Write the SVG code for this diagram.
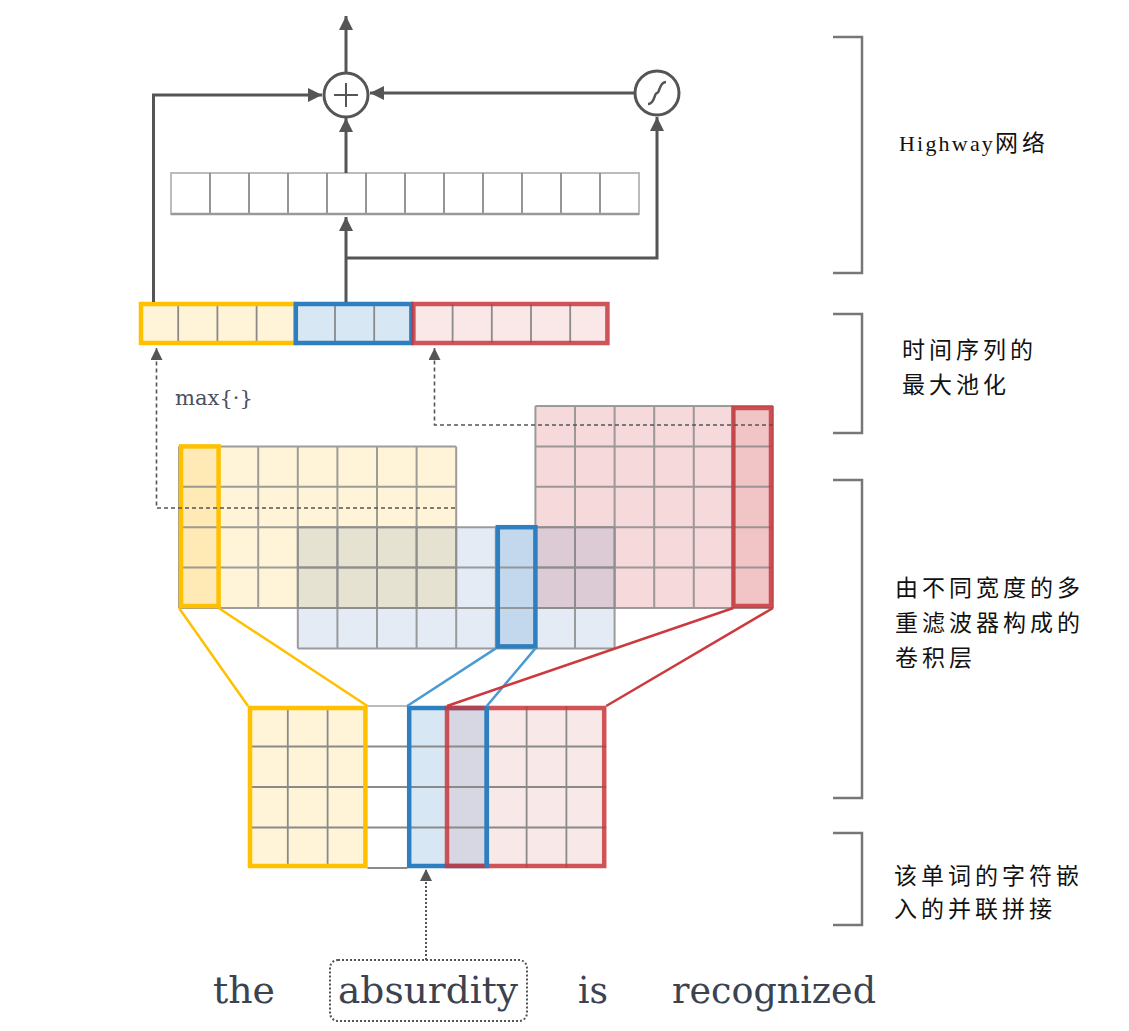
<svg xmlns="http://www.w3.org/2000/svg" width="1129" height="1031" viewBox="0 0 1129 1031">
<defs>
<marker id="ah" viewBox="0 0 10 10" refX="10" refY="5" markerWidth="15" markerHeight="14" markerUnits="userSpaceOnUse" orient="auto"><path d="M0,0 L10,5 L0,10 z" fill="#555"/></marker>
<marker id="ahs" viewBox="0 0 10 10" refX="10" refY="5" markerWidth="13" markerHeight="12" markerUnits="userSpaceOnUse" orient="auto"><path d="M0,0 L10,5 L0,10 z" fill="#555"/></marker>
<style>
.ln{fill:none;stroke:#555;stroke-width:3}
.dash{fill:none;stroke:#555;stroke-width:1.6;stroke-dasharray:4 3}
.dot{fill:none;stroke:#555;stroke-width:2;stroke-dasharray:2 2}
.grid{fill:none;stroke:#8c8c8c;stroke-width:2;stroke-opacity:0.85}
.cell{fill:none;stroke:#8a8a8a;stroke-width:1.8}
.yS{fill:none;stroke:#FFC000;stroke-width:4.5}
.bS{fill:none;stroke:#2E7FC0;stroke-width:4.5}
.rS{fill:none;stroke:#C8383D;stroke-width:4.5;stroke-opacity:0.85}
.yF{fill:#FFF4D8}
.bF{fill:#E4EBF5}
.rF{fill:#F6D9DB}
.lbl{font-family:"Noto Sans CJK SC","Noto Sans CJK TC",sans-serif;font-size:23px;letter-spacing:4px;fill:#111}
.word{font-family:"DejaVu Serif","Liberation Serif",serif;font-size:37px;fill:#3b4250}
.brk{fill:none;stroke:#777;stroke-width:2.5}
</style>
</defs>
<rect width="1129" height="1031" fill="#fff"/>

<g id="highway-bar">
<rect x="171" y="173" width="468" height="41" fill="#fff" stroke="#bbb" stroke-width="2"/>
<path class="cell" d="M210,173V214M249,173V214M288,173V214M327,173V214M366,173V214M405,173V214M444,173V214M483,173V214M522,173V214M561,173V214M600,173V214"/>
<path d="M171,214H639" stroke="#999" stroke-width="2.5" fill="none"/>
</g>

<g id="plus-node">
<circle cx="346" cy="95" r="22" fill="#fff" stroke="#555" stroke-width="3"/>
<path d="M334,95H358M346,83V107" stroke="#555" stroke-width="2" fill="none"/>
</g>

<g id="sigmoid-node">
<circle cx="657" cy="93" r="22" fill="#fff" stroke="#555" stroke-width="3"/>
<path d="M648,104 C655,104 654,93 657,93 C660,93 659,82 666,82" stroke="#555" stroke-width="2.5" fill="none"/>
</g>

<g id="pool-vector">
<rect x="139" y="302" width="156.8" height="43" fill="#FFF4D8"/>
<rect x="295.8" y="302" width="117.6" height="43" fill="#D8E7F4"/>
<rect x="413.4" y="302" width="196" height="43" fill="#FAE8E8"/>
<path class="cell" d="M178.2,304V343M217.4,304V343M256.6,304V343M335,304V343M374.2,304V343M452.6,304V343M491.8,304V343M531,304V343M570.2,304V343"/>
<rect class="yS" x="141" y="304" width="154.8" height="39"/>
<rect class="bS" x="295.8" y="304" width="115.6" height="39"/>
<rect class="rS" x="413.4" y="304" width="194" height="39"/>
</g>

<g id="max-label">
<text x="175" y="405" font-family="DejaVu Serif, Liberation Serif, serif" font-size="21" fill="#4a505c" textLength="78" lengthAdjust="spacingAndGlyphs">max{·}</text>
</g>

<g id="conv-maps">
<rect class="yF" x="179" y="446.4" width="277.2" height="161.6"/>
<rect class="bF" x="297.8" y="527.2" width="316.8" height="121.2"/>
<rect class="rF" x="535.4" y="406" width="237.6" height="202"/>
<rect x="297.8" y="527.2" width="158.4" height="80.8" fill="#E5E2D1"/>
<rect x="535.4" y="527.2" width="79.2" height="80.8" fill="#DCCBD4"/>
<rect x="179" y="446.4" width="39.6" height="161.6" fill="#FFE9B5"/>
<rect x="495.8" y="527.2" width="39.6" height="121.2" fill="#C3D8EC"/>
<rect x="733.4" y="406" width="39.6" height="202" fill="#F1C4C6"/>
<g id="conv-yellow">
<path class="grid" d="M179,446.4V608M218.6,446.4V608M258.2,446.4V608M297.8,446.4V608M337.4,446.4V608M377,446.4V608M416.6,446.4V608M456.2,446.4V608M179,446.4H456.2M179,486.8H456.2M179,527.2H456.2M179,567.6H456.2M179,608H456.2"/>
</g>
<g id="conv-blue">
<path class="grid" d="M297.8,527.2V648.4M337.4,527.2V648.4M377,527.2V648.4M416.6,527.2V648.4M456.2,527.2V648.4M495.8,527.2V648.4M535.4,527.2V648.4M575,527.2V648.4M614.6,527.2V648.4M297.8,527.2H614.6M297.8,567.6H614.6M297.8,608H614.6M297.8,648.4H614.6"/>
</g>
<g id="conv-red">
<path class="grid" d="M535.4,406V608M575,406V608M614.6,406V608M654.2,406V608M693.8,406V608M733.4,406V608M773,406V608M535.4,406H773M535.4,446.4H773M535.4,486.8H773M535.4,527.2H773M535.4,567.6H773M535.4,608H773"/>
</g>
<rect class="yS" x="181" y="446.4" width="37.6" height="159.6"/>
<rect class="bS" x="497.8" y="527.2" width="37.6" height="119.2"/>
<rect class="rS" x="733.4" y="408" width="37.6" height="198"/>
</g>

<g id="embedding">
<rect x="248" y="706" width="119.4" height="162" fill="#FFF4D8"/>
<rect x="407.2" y="706" width="79.6" height="162" fill="#D8E7F4"/>
<rect x="447" y="706" width="159.2" height="162" fill="#F9E8E8"/>
<rect x="447" y="706" width="39.8" height="162" fill="#D6D7E3"/>
<path class="cell" d="M248,746.5H606.2M248,787H606.2M248,827.5H606.2M367.4,868H407.2M287.8,706V868M327.6,706V868M526.6,706V868M566.4,706V868"/>
<path d="M367.4,706H407.2" stroke="#bbb" stroke-width="2" fill="none"/>
<rect class="yS" x="250" y="708" width="115.4" height="158"/>
<rect class="bS" x="409.2" y="708" width="77.6" height="158"/>
<rect class="rS" x="447" y="708" width="157.2" height="158"/>
<path d="M486.8,706V868" stroke="#2E7FC0" stroke-width="4.5" fill="none"/>
</g>

<g id="connectors">
<path class="ln" d="M346,72V16" marker-end="url(#ah)"/>
<path class="ln" d="M153.5,302V95H322" marker-end="url(#ah)"/>
<path class="ln" d="M635,93H370" marker-end="url(#ah)"/>
<path class="ln" d="M346,173V118" marker-end="url(#ah)"/>
<path class="ln" d="M346,302V217" marker-end="url(#ah)"/>
<path class="ln" d="M346,258H657V117" marker-end="url(#ah)"/>
<path class="dash" d="M455,508H156.5V348" marker-end="url(#ahs)"/>
<path class="dash" d="M773,425H434.5V348" marker-end="url(#ahs)"/>
<path class="dot" d="M426,960V869" marker-end="url(#ahs)"/>
<path d="M179,608L248,706M218.6,608L367.4,706" stroke="#FFC000" stroke-width="2.5" fill="none"/>
<path d="M495.8,648.4L407.2,706M535.4,648.4L486.8,706" stroke="#4A9AD4" stroke-width="2.5" fill="none"/>
<path d="M733.4,608L447,706M773,608L606.2,706" stroke="#CC3A3F" stroke-width="2.5" fill="none"/>
</g>

<g id="words">
<text class="word" x="213" y="1003" textLength="62" lengthAdjust="spacingAndGlyphs">the</text>
<rect class="dot" x="330" y="960" width="197" height="61" rx="8"/>
<text class="word" x="338" y="1003" textLength="180" lengthAdjust="spacingAndGlyphs">absurdity</text>
<text class="word" x="578" y="1003" textLength="30" lengthAdjust="spacingAndGlyphs">is</text>
<text class="word" x="672" y="1003" textLength="204" lengthAdjust="spacingAndGlyphs">recognized</text>
</g>

<g id="labels">
<path class="brk" d="M833,37H862V273H833"/>
<path class="brk" d="M833,314H862V433H833"/>
<path class="brk" d="M833,480H862V798H833"/>
<path class="brk" d="M833,833H862V925H833"/>
<text class="lbl" x="899" y="151"><tspan font-family="Liberation Serif, serif" font-size="22" letter-spacing="2.2">Highway</tspan>网络</text>
<text class="lbl" x="902" y="358">时间序列的</text>
<text class="lbl" x="902" y="393">最大池化</text>
<text class="lbl" x="895" y="596">由不同宽度的多</text>
<text class="lbl" x="895" y="631">重滤波器构成的</text>
<text class="lbl" x="895" y="666">卷积层</text>
<text class="lbl" x="894" y="884">该单词的字符嵌</text>
<text class="lbl" x="894" y="917">入的并联拼接</text>
</g>
</svg>
